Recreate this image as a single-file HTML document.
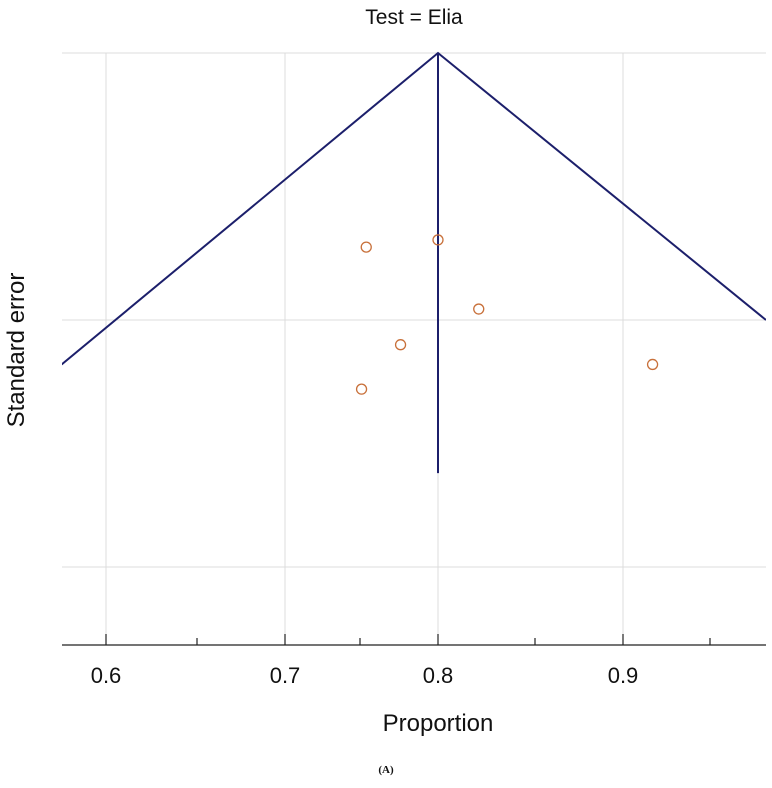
<!DOCTYPE html>
<html><head><meta charset="utf-8"><style>
body{margin:0;background:#fff;}
svg text{font-family:"Liberation Sans",sans-serif;}
</style></head><body>
<svg id="chart" width="772" height="783">
<g id="grid"></g><g id="axis"></g><g id="funnel"></g><g id="pts"></g>
<text x="414" y="24" text-anchor="middle" font-size="21" fill="#111">Test = Elia</text>
<text transform="translate(24,350) rotate(-90)" text-anchor="middle" font-size="24" fill="#111">Standard error</text>
<text x="438" y="731" text-anchor="middle" font-size="24" fill="#111">Proportion</text>
<text x="386" y="773" text-anchor="middle" font-size="11" font-weight="bold" style="font-family:'Liberation Serif',serif" fill="#111">(A)</text>
</svg>
<script>
const majorTicks=[0.6,0.7,0.8,0.9];
const minorTicks=[0.65,0.75,0.85,0.95];
const tickLabels=["0.6","0.7","0.8","0.9"];
const seGrid=[0,0.1,0.2];
const pooled=0.8;
const maxSE=0.162;
const props=[0.754,0.8,0.821,0.776,0.751,0.917];
const ses=[0.0727,0.070,0.0959,0.110,0.128,0.118];
const xv=[0.569,0.6,0.65,0.7,0.75,0.8,0.85,0.9,0.95,0.996],xp=[62,106,197,285,360,438,535,623,710,766];
const yv=[0,0.1,0.2,0.229],yp=[53,320,567,645];
function interp(v,a,b){for(let i=0;i<a.length-1;i++){if(v<=a[i+1]||i==a.length-2){return b[i]+(v-a[i])/(a[i+1]-a[i])*(b[i+1]-b[i]);}}}
const X=v=>interp(v,xv,xp),Y=v=>interp(v,yv,yp);
const NS="http://www.w3.org/2000/svg";
function mk(p,t,at){const e=document.createElementNS(NS,t);for(const k in at)e.setAttribute(k,at[k]);document.getElementById(p).appendChild(e);return e;}
seGrid.forEach(s=>{const e=mk('grid','line',{x1:62,x2:766,y1:Y(s),y2:Y(s),stroke:'#dcdcdc','stroke-width':1});

});
majorTicks.forEach((t,i)=>{const g=mk('grid','line',{x1:X(t),x2:X(t),y1:53,y2:645,stroke:'#dcdcdc','stroke-width':1});


const k=mk('axis','line',{x1:X(t),x2:X(t),y1:634,y2:645,stroke:'#222','stroke-width':1.2});


const l=mk('axis','text',{x:X(t),y:683,'text-anchor':'middle','font-size':22,fill:'#111'});l.textContent=tickLabels[i];

});
minorTicks.forEach(t=>{const k=mk('axis','line',{x1:X(t),x2:X(t),y1:638,y2:645,stroke:'#222','stroke-width':1.2});

});
const ax=mk('axis','line',{x1:62,x2:766,y1:645,y2:645,stroke:'#222','stroke-width':1.3});


const cp=mk('funnel','clipPath',{id:'cl'});const r=document.createElementNS(NS,'rect');r.setAttribute('x',62);r.setAttribute('y',0);r.setAttribute('width',704);r.setAttribute('height',645);cp.appendChild(r);
const seL=0.118,seR=0.1;
const fl=mk('funnel','polyline',{points:`${X(pooled-1.96*seL)},${Y(seL)} ${X(pooled)},${Y(0)} ${X(pooled+1.96*seR)},${Y(seR)}`,fill:'none',stroke:'#1c1f6b','stroke-width':2,'clip-path':'url(#cl)'});


const vl=mk('funnel','line',{x1:X(pooled),x2:X(pooled),y1:Y(0),y2:Y(maxSE),stroke:'#1c1f6b','stroke-width':2});


props.forEach((p,i)=>{const c=mk('pts','circle',{cx:X(p),cy:Y(ses[i]),r:5,fill:'none',stroke:'#c8703a','stroke-width':1.3});

});
</script>
</body></html>
